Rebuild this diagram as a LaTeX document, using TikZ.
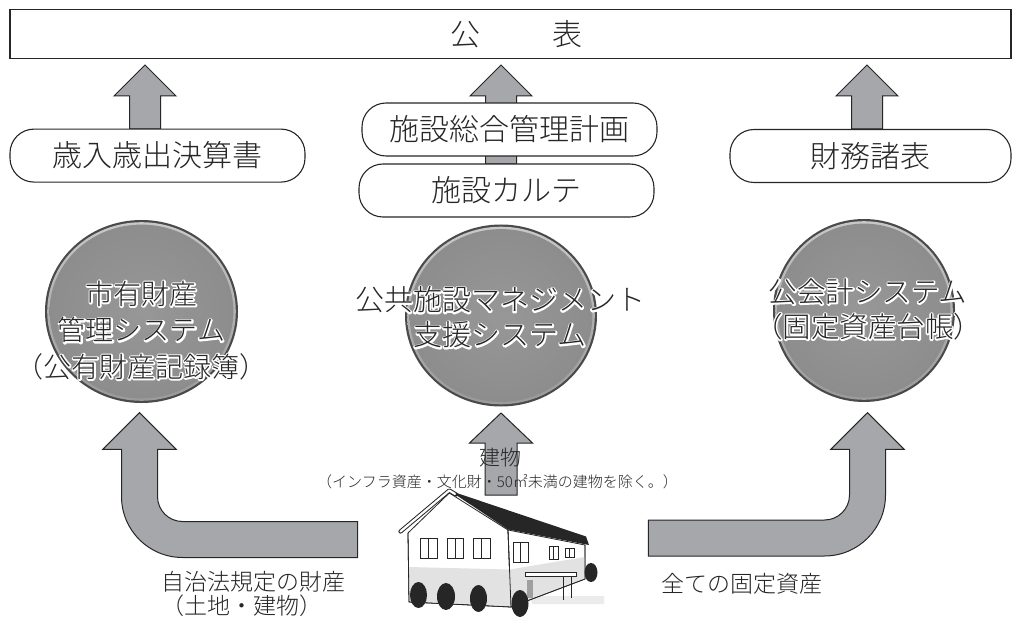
\documentclass[tikz,border=0pt]{standalone}
\usepackage{fontspec}
\IfFontExistsTF{Noto Sans CJK JP Light}
  {\setmainfont{Noto Sans CJK JP Light}}
  {\setmainfont{Noto Sans CJK JP}}
\usetikzlibrary{calc}

\definecolor{ink}{HTML}{262626}
\definecolor{arrowgray}{HTML}{A5A7AA}
\definecolor{ballgray}{HTML}{8D8D8D}
\definecolor{balllight}{HTML}{979797}
\definecolor{ballrim}{HTML}{4A4A4A}
\definecolor{ringlight}{HTML}{C8C8C8}
\definecolor{ringdark}{HTML}{9A9A9A}
\definecolor{wallgray}{HTML}{E2E2E2}

% dark letters on a white outline: a stroked white copy underneath, then the letters
\newcommand\halo[1]{\makebox[0pt][l]{\special{pdf:literal direct 1 Tr 3 w 1 j 1 J 1 1 1 RG}#1\special{pdf:literal direct 0 Tr}}#1}

% filled up-pointing block arrow: centre x, tip y, foot y
\newcommand\upblock[3]{%
  \filldraw[blockarrow] ({#1-15.5},#3) -- ({#1-15.5},{#2+31}) -- ({#1-31},{#2+31})
    -- (#1,#2) -- ({#1+31},{#2+31}) -- ({#1+15.5},{#2+31}) -- ({#1+15.5},#3) -- cycle;}

% shaded disc: centre x, centre y, x radius, y radius
\newcommand\sphere[4]{%
  \fill[ballrim] (#1,#2) ellipse [x radius=#3, y radius=#4];
  \pgfmathsetmacro\rxa{#3-2.2}\pgfmathsetmacro\rya{#4-2.2}%
  \pgfmathsetmacro\rxb{#3-4.6}\pgfmathsetmacro\ryb{#4-4.6}%
  \shade[top color=ringlight, bottom color=ringdark] (#1,#2) ellipse [x radius=\rxa, y radius=\rya];
  \shade[inner color=balllight, outer color=ballgray] (#1,#2) ellipse [x radius=\rxb, y radius=\ryb];}

\newcommand\pane[4]{%
  \draw[ink, line width=0.7pt] (#1,#2) rectangle (#3,#4);
  \draw[ink, line width=0.7pt] ({(#1+#3)/2},#2) -- ({(#1+#3)/2},#4);}

\tikzset{
  panel/.style={draw=ink, line width=1.1pt, fill=white, inner sep=0pt},
  pill/.style={draw=ink, line width=1.1pt, fill=white, rounded corners=24pt,
    minimum height=53pt, inner sep=0pt, text=ink, font=\fontsize{30}{30}\selectfont},
  blockarrow/.style={draw=ink, line width=1pt, fill=arrowgray, line join=miter},
  balltext/.style={align=center, text=ink, inner sep=0pt},
  caption/.style={text=ink, inner sep=0pt},
}

\begin{document}
\begin{tikzpicture}[x=1pt, y=-1pt]
\useasboundingbox (0,0) rectangle (1015,620);
\fill[white] (0,0) rectangle (1015,620);

% publication bar
\node[panel, minimum width=1001pt, minimum height=49.5pt] (koho) at (510.5,34.2) {};
\node[caption, font=\fontsize{30}{30}\selectfont] (kohyo) at (516.5,34) {公\hspace{72pt}表};

% arrows up to the publication bar
\upblock{145}{65}{129}
\upblock{501}{65}{164}
\upblock{867}{65}{129}

% report boxes
\node[pill, minimum width=295pt] (kessan) at (157.5,155.6) {歳入歳出決算書};
\node[pill, minimum width=295pt] (keikaku) at (509.5,129.5) {施設総合管理計画};
\node[pill, minimum width=295pt] (karte) at (506.5,190.5) {施設カルテ};
\node[pill, minimum width=281pt] (zaimu) at (870.5,156) {財務諸表};

% systems
\sphere{141.5}{311.5}{96.5}{91.5}
\sphere{501}{315.5}{96}{91}
\sphere{864}{310.5}{91}{91.5}

\node[balltext, font=\fontsize{28}{36.5}\selectfont] (zaisan) at (141.5,330.5)
  {\halo{市有財産}\\\halo{管理システム}\\\halo{（公有財産記録簿）}};
\node[balltext, font=\fontsize{29}{35}\selectfont] (shisetsu) at (500,317.5)
  {\halo{公共施設マネジメント}\\\halo{支援システム}};
\node[balltext, font=\fontsize{28.5}{35}\selectfont] (kaikei) at (868,309.5)
  {\halo{公会計システム}\\\halo{（固定資産台帳）}};

% bent arrow to the property register
\filldraw[blockarrow] (139.5,412.7) -- (176.2,449.3) -- (157.5,449.3) -- (157.5,496.5)
  .. controls (157.5,510.3) and (168.7,521.5) .. (182.5,521.5)
  -- (357.7,521.5) -- (357.7,557.5) -- (182.5,557.5)
  .. controls (148.8,557.5) and (121.5,530.2) .. (121.5,496.5)
  -- (121.5,449.3) -- (102.8,449.3) -- cycle;

% bent arrow to the accounting system
\filldraw[blockarrow] (867.5,412.7) -- (904.2,449.3) -- (885.5,449.3) -- (885.5,495)
  .. controls (885.5,528.7) and (858.2,556) .. (824.5,556)
  -- (648.3,556) -- (648.3,520) -- (824.5,520)
  .. controls (838.3,520) and (849.5,508.8) .. (849.5,495)
  -- (849.5,449.3) -- (830.8,449.3) -- cycle;

% straight arrow to the facility system
\filldraw[blockarrow] (501,413) -- (532.5,443) -- (517,443) -- (517,495)
  -- (485,495) -- (485,443) -- (469.5,443) -- cycle;

\node[caption, font=\fontsize{21}{21}\selectfont] (tatemono) at (500,458) {建物};
\node[caption, font=\fontsize{15}{15}\selectfont] (jogai) at (497.5,482)
  {（インフラ資産・文化財・50㎡未満の建物を除く。）};

\node[caption, align=left, anchor=west, font=\fontsize{23}{24}\selectfont] (jichi) at (161,594.3)
  {自治法規定の財産\\（土地・建物）};
\node[caption, font=\fontsize{23}{23}\selectfont] (zenbu) at (741.5,584) {全ての固定資産};

% building
\fill[wallgray!70] (530,596) -- (604,596) -- (604,604) -- (532,604) -- cycle;
\filldraw[fill=white, draw=ink, line width=0.8pt, line join=round]
  (408,533) -- (449.3,493) -- (508,530) -- (511,607) -- (409,602) -- cycle;
\filldraw[fill=white, draw=ink, line width=0.8pt, line join=round]
  (508,530) -- (585,545) -- (585,579) -- (511,607) -- cycle;
\fill[wallgray] (408.5,567) -- (509.6,569.5) -- (510.6,606.3) -- (409.4,601.4) -- cycle;
\fill[wallgray] (509.6,569.5) -- (584.6,557) -- (584.6,578.6) -- (510.6,606.3) -- cycle;
\draw[ink, line width=0.8pt, line join=round]
  (408,533) -- (409,602) -- (511,607) -- (585,579) -- (585,545);
\draw[ink, line width=0.8pt] (508,530) -- (511,607);
\fill[ink] (449.3,490.5) -- (586,536.5) -- (589,545) -- (508,529.5) -- cycle;
\draw[ink, line width=4.2pt, line cap=round, line join=round] (400.5,531.5) -- (449.3,490.5) -- (456,494.5);
\draw[white, line width=2.2pt, line cap=round, line join=round] (400.5,531.5) -- (449.3,490.5) -- (455,494);
\pane{420}{538}{437}{558}
\pane{447}{538}{463}{558}
\pane{473}{538}{490}{558}
\pane{513}{542}{528}{562}
\pane{549}{546}{558}{559}
\pane{565}{548}{574}{557}
\fill[gray!75] (527,580) rectangle (533,598);
\draw[ink, line width=0.7pt] (563,576) -- (563,600) (571,576) -- (571,598);
\filldraw[fill=white, draw=ink, line width=0.7pt] (525,572) rectangle (576,576);
\fill[ink] (418.5,595) ellipse [x radius=8.5, y radius=13];
\fill[ink] (446,596.5) ellipse [x radius=9, y radius=13.5];
\fill[ink] (478.5,598.5) ellipse [x radius=8.5, y radius=13.5];
\fill[ink] (520,603.5) ellipse [x radius=8.5, y radius=13.5];
\fill[ink] (591,572.5) ellipse [x radius=6.5, y radius=9.5];
\end{tikzpicture}
\end{document}
